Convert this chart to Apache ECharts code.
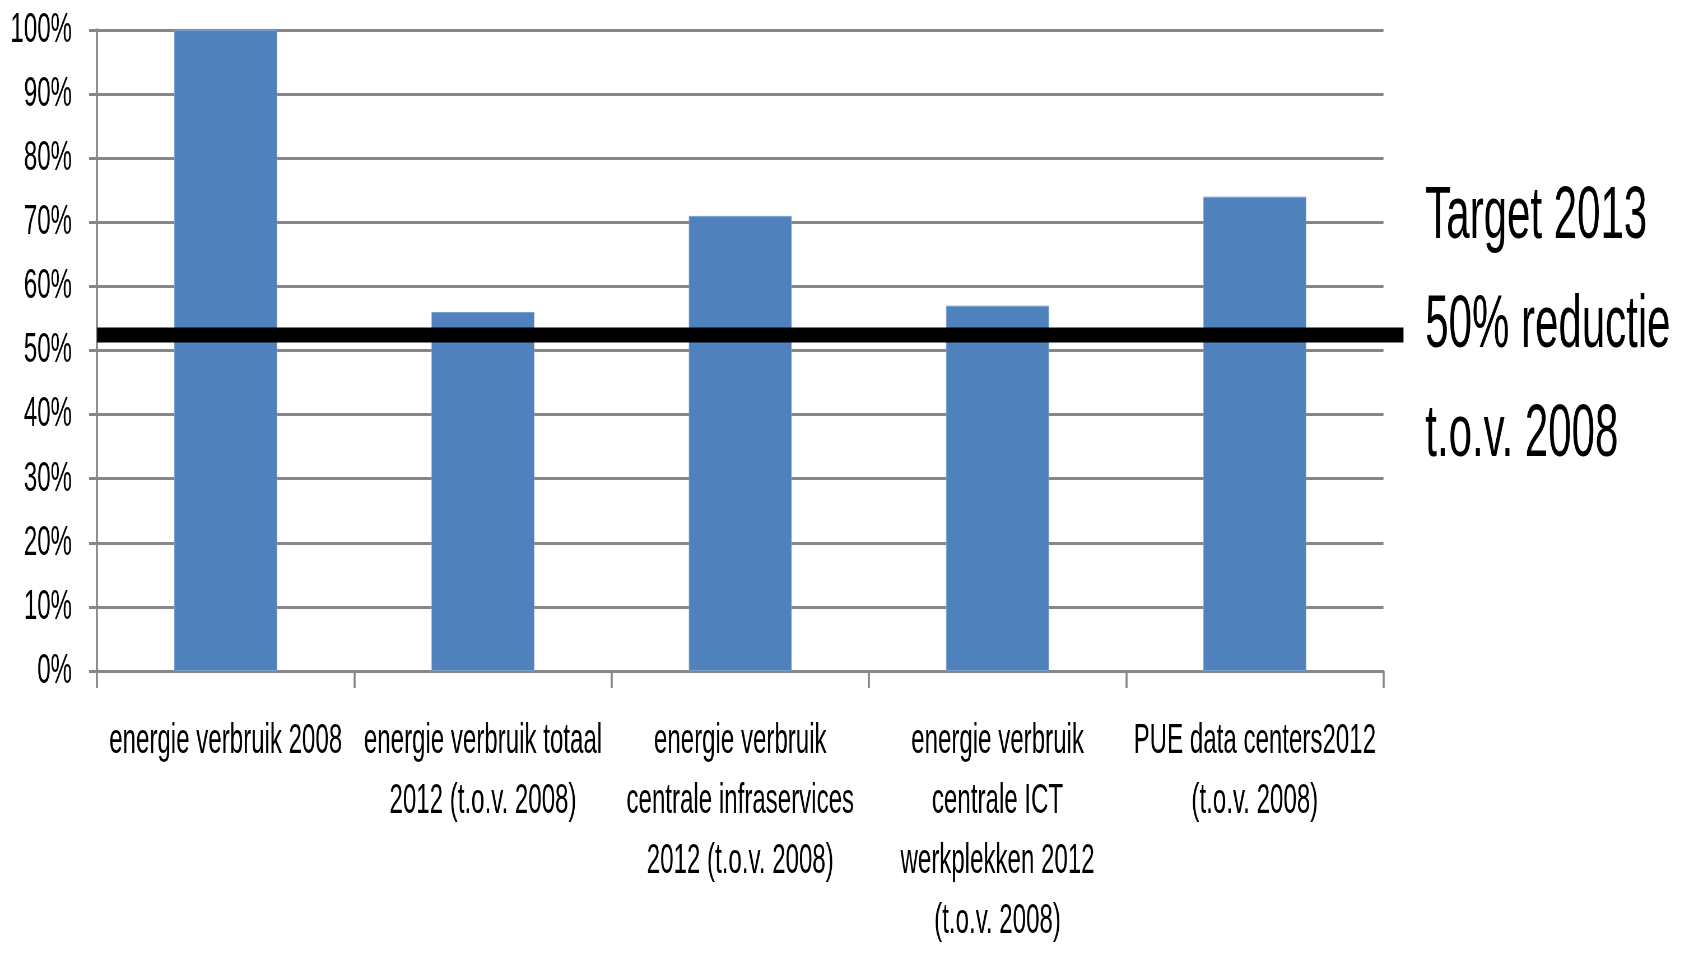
<!DOCTYPE html>
<html>
<head>
<meta charset="utf-8">
<script src="https://cdn.jsdelivr.net/npm/echarts@6/dist/echarts.min.js"></script>
<style>
  html, body { margin: 0; padding: 0; overflow: hidden; background: #fff; width: 1686px; height: 953px; }
  #wrap { position: absolute; left: 0; top: 0; transform-origin: 0 0; }
</style>
</head>
<body>
<div id="wrap"></div>
<script>
// ---- data ----
const categories = [
  "energie verbruik 2008",
  "energie verbruik totaal\n2012 (t.o.v. 2008)",
  "energie verbruik\ncentrale infraservices\n2012 (t.o.v. 2008)",
  "energie verbruik\ncentrale ICT\nwerkplekken 2012\n(t.o.v. 2008)",
  "PUE data centers2012\n(t.o.v. 2008)"
];
const values = [100, 56, 71, 57, 74];
const targetLevel = 52.4;
const targetText = "Target 2013\n50% reductie\nt.o.v. 2008";
const yMin = 0, yMax = 100, yStep = 10;

// ---- layout (horizontal condense to mimic narrow font) ----
const S = 0.56;
const W = 1686 / S, H = 953;
const wrap = document.getElementById('wrap');
wrap.style.width = W + 'px';
wrap.style.height = H + 'px';
wrap.style.transform = 'scaleX(' + S + ')';

const FONT = '"Liberation Sans", Arial, sans-serif';
const gridColor = '#868686';

const chart = echarts.init(wrap, null, { renderer: 'canvas', width: W, height: H });
chart.setOption({
  animation: false,
  backgroundColor: '#fff',
  title: {
    text: targetText,
    left: 1422 / S,
    top: 158,
    textStyle: { fontFamily: FONT, fontSize: 75, fontWeight: 'normal', color: '#000', lineHeight: 109 }
  },
  grid: [
    { left: 97 / S, right: (1686 - 1383) / S, top: 30, bottom: 953 - 671, outerBoundsMode: 'none', containLabel: false },
    { left: 97 / S, right: (1686 - 1403) / S, top: 30, bottom: 953 - 671, outerBoundsMode: 'none', containLabel: false }
  ],
  xAxis: [
    {
      type: 'category', gridIndex: 0, data: categories,
      axisLine: { lineStyle: { color: gridColor, width: 3 } },
      axisTick: { show: true, length: 17, lineStyle: { color: gridColor, width: 2 / S } },
      axisLabel: { interval: 0, margin: 40, fontFamily: FONT, fontSize: 43, color: '#000', lineHeight: 60, align: 'center' }
    },
    { type: 'value', gridIndex: 1, min: 0, max: 1, show: false }
  ],
  yAxis: [
    {
      type: 'value', gridIndex: 0, min: yMin, max: yMax, interval: yStep,
      axisLine: { show: true, lineStyle: { color: gridColor, width: 2 / S } },
      axisTick: { show: true, length: 8 / S, lineStyle: { color: gridColor, width: 3 } },
      splitLine: { lineStyle: { color: gridColor, width: 3 } },
      axisLabel: { formatter: '{value}%', margin: 25 / S, fontFamily: FONT, fontSize: 43, color: '#000', padding: [6, 0, 0, 0] }
    },
    { type: 'value', gridIndex: 1, min: yMin, max: yMax, show: false }
  ],
  series: [
    {
      type: 'bar', xAxisIndex: 0, yAxisIndex: 0, data: values, barWidth: '40%',
      itemStyle: { color: '#4F81BD', borderColor: '#7CA1CF', borderWidth: 1 },
      z: 2
    },
    {
      type: 'line', xAxisIndex: 1, yAxisIndex: 1,
      data: [[0, targetLevel], [1, targetLevel]],
      showSymbol: false, symbol: 'none',
      lineStyle: { color: '#000', width: 15, cap: 'butt' },
      z: 5
    }
  ]
});
</script>
</body>
</html>
